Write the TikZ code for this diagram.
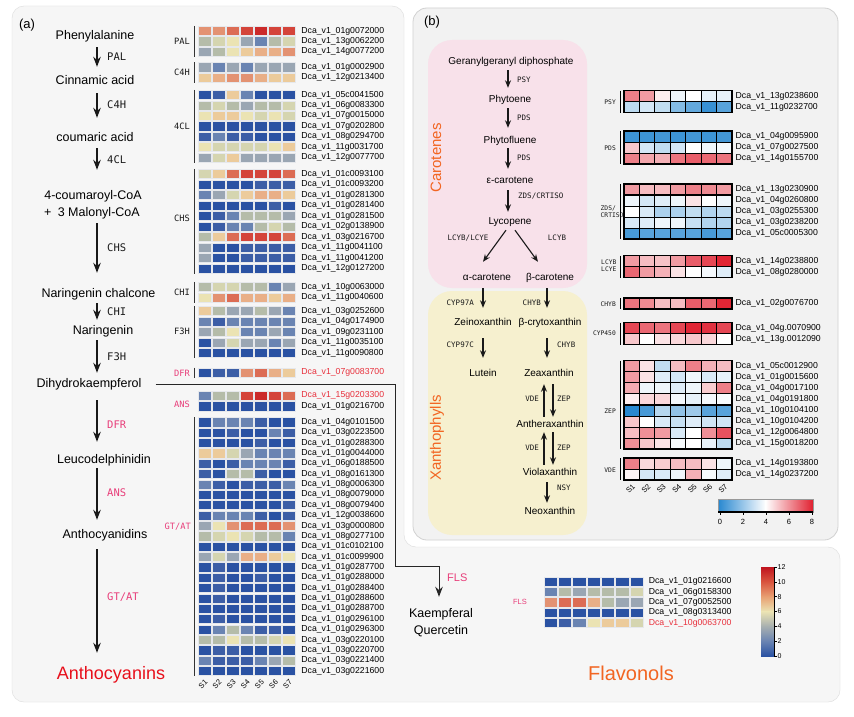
\documentclass[tikz,border=0pt]{standalone}
\usepackage{fontspec}
\setmainfont{Liberation Sans}
\newfontfamily\monof{DejaVu Sans Mono}
\usetikzlibrary{arrows.meta,calc}
\definecolor{hB}{HTML}{2A52A3}
\definecolor{hb}{HTML}{3C5EA6}
\definecolor{hm}{HTML}{6A84B2}
\definecolor{hg}{HTML}{9AA6B3}
\definecolor{hG}{HTML}{B5BCA9}
\definecolor{hy}{HTML}{D5D5B0}
\definecolor{hY}{HTML}{EBE3B3}
\definecolor{ho}{HTML}{ECCB9B}
\definecolor{hp}{HTML}{E9AF87}
\definecolor{hO}{HTML}{E39272}
\definecolor{hr}{HTML}{DC6C54}
\definecolor{hR}{HTML}{D4443A}
\definecolor{hX}{HTML}{CB2A2A}
\definecolor{cbX}{HTML}{C0141E}
\definecolor{cbR}{HTML}{D9553F}
\definecolor{cbO}{HTML}{E8A072}
\definecolor{cbG}{HTML}{A7AFB0}
\definecolor{bb}{HTML}{2888D0}
\definecolor{rb}{HTML}{E02030}
\definecolor{pk}{HTML}{E83E7A}
\definecolor{rd}{HTML}{E8303C}
\definecolor{antc}{HTML}{E8101C}
\definecolor{orc}{HTML}{F26522}
\definecolor{pfill}{HTML}{F6F6F6}
\definecolor{pline}{HTML}{DCDCDC}
\definecolor{pinkbox}{HTML}{F8E1EA}
\definecolor{yelbox}{HTML}{F6F0CF}
\definecolor{gapc}{HTML}{E6E8EC}
\newcounter{gn}
\newcommand\hrow[6]{%
  \foreach \c [count=\i from 0] in {#4} {
    \fill[fill=\c, draw=gapc, line width=0.6pt] ({#1+#2*\i},{#3-4.6}) rectangle ++({#2-1},9.2);
  }
  \stepcounter{gn}
  \node[gene, text=#6] (gene\thegn) at ({#1+7*#2+4.5},#3) {Dca\_v1\_#5};
}
\newcommand\brow[3]{%
  \foreach \v [count=\i from 0] in {#2} {
    \pgfmathsetmacro\pc{abs(\v-4)*25}
    \ifdim\v pt<4pt \def\cc{bb}\else\def\cc{rb}\fi
    \draw[fill=\cc!\pc!white, line width=0.8pt] ({624+15.43*\i},{#1-5.5}) rectangle ++(15.43,11);
  }
  \stepcounter{gn}
  \node[gene] (gene\thegn) at (735.5,#1) {Dca\_v1\_#3};
}
\newcommand\bframe[2]{\draw[line width=1.5pt] (624,{#1-5.5}) rectangle (732,{#2+5.5});
  \draw[line width=0.8pt] (620,{#1-5.5}) -- (620,{#2+5.5});}
\newcommand\lbar[2]{\draw[line width=0.9pt, black!80] (194,{#1-5.2}) -- (194,{#2+5.2});}
\begin{document}
\begin{tikzpicture}[x=1pt,y=-1pt,
  cmp/.style={font=\fontsize{12.5}{14}\selectfont, inner sep=0pt, text height=9pt, text depth=2.5pt},
  cmpb/.style={font=\fontsize{10}{12}\selectfont, inner sep=0pt, text height=7.5pt, text depth=2pt},
  enz/.style={font=\monof\fontsize{10.5}{12}\selectfont, inner sep=0pt, anchor=west, text=black!90},
  enzb/.style={font=\monof\fontsize{7.5}{9}\selectfont, inner sep=0pt, text=black!90},
  grp/.style={font=\monof\fontsize{8.7}{10}\selectfont, inner sep=0pt, anchor=east, text=black!90},
  grpb/.style={font=\monof\fontsize{6.3}{7.2}\selectfont, inner sep=0pt, text=black!90},
  gene/.style={font=\fontsize{8.7}{10}\selectfont, inner sep=0pt, anchor=west},
  samp/.style={font=\fontsize{7.5}{9}\selectfont, rotate=45, inner sep=0pt},
  arr/.style={-{Stealth[length=10pt,width=7.5pt]}, line width=1.2pt, black!90},
  arrb/.style={-{Stealth[length=7.5pt,width=6pt]}, line width=1.1pt, black!90},
  tick/.style={font=\fontsize{7}{8}\selectfont, inner sep=0pt}]
\useasboundingbox (0,0) rectangle (854,717);
\fill[white] (0,0) rectangle (854,717);
% panels
\draw[pline, fill=pfill, rounded corners=12pt] (12,6) -- (404,6) -- (404,547) -- (840,547) -- (840,702) -- (12,702) -- cycle;
\draw[black!18, fill=black!5, rounded corners=14pt, line width=0.8pt] (413,8) rectangle (838,540);
\fill[pinkbox, rounded corners=24pt] (428,40) rectangle (587,288);
\fill[yelbox, rounded corners=24pt] (428,291) rectangle (587,535);
\node[font=\fontsize{13}{15}\selectfont, inner sep=0pt] (la) at (27,25) {(a)};
\node[font=\fontsize{13}{15}\selectfont, inner sep=0pt] (lb) at (432,22) {(b)};

% ---------- left pathway ----------
\coordinate (colx) at (97,0);
\node[cmp] (phe) at (95,36) {Phenylalanine};
\node[cmp] (cin) at (95,81) {Cinnamic acid};
\node[cmp] (cou) at (95,138) {coumaric acid};
\node[cmp] (coa) at (93,196) {4-coumaroyl-CoA};
\node[cmp] (mal) at (92,213) {+\enspace 3 Malonyl-CoA};
\node[cmp] (nc) at (98.5,294) {Naringenin chalcone};
\node[cmp] (nar) at (103,331) {Naringenin};
\node[cmp] (dhk) at (89,384) {Dihydrokaempferol};
\node[cmp] (leu) at (104,460) {Leucodelphinidin};
\node[cmp] (ant) at (105,535) {Anthocyanidins};
\node[font=\fontsize{18}{20}\selectfont, inner sep=0pt, text height=13pt, text depth=4pt, text=antc] (anth) at (111,675) {Anthocyanins};
\draw[arr, shorten <=5.25pt, shorten >=8.25pt] (phe.south -| colx) -- (cin.north -| colx);
\draw[arr, shorten <=6.25pt, shorten >=14.25pt] (cin.south -| colx) -- (cou.north -| colx);
\draw[arr, shorten <=4.25pt, shorten >=20.25pt] (cou.south -| colx) -- (coa.north -| colx);
\draw[arr, shorten <=4.25pt, shorten >=15.25pt] (mal.south -| colx) -- (nc.north -| colx);
\draw[arr, shorten <=3.25pt, shorten >=5.25pt] (nc.south -| colx) -- (nar.north -| colx);
\draw[arr, shorten <=3.25pt, shorten >=5.25pt] (nar.south -| colx) -- (dhk.north -| colx);
\draw[arr, shorten <=10.25pt, shorten >=12.25pt] (dhk.south -| colx) -- (leu.north -| colx);
\draw[arr, shorten <=2.25pt, shorten >=9.25pt] (leu.south -| colx) -- (ant.north -| colx);
\draw[arr, shorten <=8.25pt, shorten >=13.5pt] (ant.south -| colx) -- (anth.north -| colx);
\node[enz] (ePAL) at (107,57) {PAL};
\node[enz] (eC4H) at (107,105) {C4H};
\node[enz] (e4CL) at (107,160) {4CL};
\node[enz] (eCHS) at (107,248) {CHS};
\node[enz] (eCHI) at (107,312) {CHI};
\node[enz] (eF3H) at (107,357) {F3H};
\node[enz, text=pk] (eDFR) at (107,425) {DFR};
\node[enz, text=pk] (eANS) at (107,493) {ANS};
\node[enz, text=pk] (eGT) at (107,597) {GT/AT};

% connector to flavonols
\coordinate (c1) at (395,384);
\coordinate (c2) at (439,566);
\node[cmp] (kae) at (441,614) {Kaempferal};
\node[cmp] (que) at (441,631) {Quercetin};
\draw[-{Stealth[length=10pt,width=7.5pt]}, line width=1pt, black!85, shorten <=14pt, shorten >=11.25pt] (dhk.east) -- (c1) -- (c1 |- c2) -- (c2) -- (c2 |- kae.north);
\node[font=\fontsize{11}{13}\selectfont, text=pk, anchor=west, inner sep=0pt] (fls) at (447,578) {FLS};

% ---------- left heatmap ----------
\node[grp] (gPAL) at (190,41) {PAL};
\node[grp] (gC4H) at (190,72.5) {C4H};
\node[grp] (g4CL) at (190,126) {4CL};
\node[grp] (gCHS) at (190,218) {CHS};
\node[grp] (gCHI) at (190,292) {CHI};
\node[grp] (gF3H) at (190,331) {F3H};
\node[grp, text=pk] (gDFR) at (190,373) {DFR};
\node[grp, text=pk] (gANS) at (190,404) {ANS};
\node[grp, text=pk] (gGT) at (191,527) {GT/AT};
\lbar{31}{51.8}\lbar{67.4}{77.8}\lbar{95}{157.4}\lbar{174}{268.5}\lbar{287}{297.4}\lbar{311}{353}\lbar{372.7}{372.7}\lbar{422.3}{671}
\hrow{198}{14.1}{31}{hO,hO,hr,hR,hX,hR,hR}{01g0072000}{black}
\hrow{198}{14.1}{41.4}{hG,hy,hY,hg,hm,hG,hy}{13g0062200}{black}
\hrow{198}{14.1}{51.8}{hg,hG,hY,ho,hp,hp,hO}{14g0077200}{black}
\hrow{198}{14.1}{67.4}{hg,hm,hg,hm,hg,hg,hg}{01g0002900}{black}
\hrow{198}{14.1}{77.8}{ho,hp,hO,hO,hp,ho,ho}{12g0213400}{black}
\hrow{198}{14.1}{95}{hB,hb,ho,hm,hB,hB,hB}{05c0041500}{black}
\hrow{198}{14.1}{105.4}{hG,hy,hG,hg,hG,hG,hy}{06g0083300}{black}
\hrow{198}{14.1}{115.8}{hY,ho,ho,hY,hy,hY,hy}{07g0015000}{black}
\hrow{198}{14.1}{126.2}{hB,hB,hB,hB,hB,hB,hB}{07g0202800}{black}
\hrow{198}{14.1}{136.6}{hb,hm,hb,hb,hB,hB,hB}{08g0294700}{black}
\hrow{198}{14.1}{147}{hY,hy,hy,hy,hy,hY,ho}{11g0031700}{black}
\hrow{198}{14.1}{157.4}{hg,hy,ho,hg,hg,hg,hg}{12g0077700}{black}
\hrow{198}{14.1}{174}{hy,ho,hr,hR,hR,hR,hr}{01c0093100}{black}
\hrow{198}{14.1}{184.5}{hB,hB,hB,hB,hb,hb,hb}{01c0093200}{black}
\hrow{198}{14.1}{195}{hm,hg,hy,ho,hp,hp,ho}{01g0281300}{black}
\hrow{198}{14.1}{205.5}{hB,hB,hB,hB,hB,hb,hB}{01g0281400}{black}
\hrow{198}{14.1}{216}{hB,hb,hm,hG,hG,hG,hg}{01g0281500}{black}
\hrow{198}{14.1}{226.5}{hB,hb,hm,hm,hG,hy,hG}{02g0138900}{black}
\hrow{198}{14.1}{237}{hG,ho,hr,hR,hR,hR,hr}{03g0216700}{black}
\hrow{198}{14.1}{247.5}{hg,hB,hB,hb,hb,hb,hb}{11g0041100}{black}
\hrow{198}{14.1}{258}{hg,hB,hB,hb,hb,hb,hb}{11g0041200}{black}
\hrow{198}{14.1}{268.5}{hB,hB,hB,hB,hB,hB,hB}{12g0127200}{black}
\hrow{198}{14.1}{287}{hG,hy,hy,hG,hG,hm,hg}{10g0063000}{black}
\hrow{198}{14.1}{297.4}{hY,hO,hr,hp,hp,ho,hp}{11g0040600}{black}
\hrow{198}{14.1}{311}{ho,hG,hg,hg,hG,hg,hm}{03g0252600}{black}
\hrow{198}{14.1}{321.5}{hm,hb,hm,hm,hm,hm,hm}{04g0174900}{black}
\hrow{198}{14.1}{332}{hg,hG,hY,hm,hm,hg,hm}{09g0231100}{black}
\hrow{198}{14.1}{342.5}{hB,hg,hy,hg,hg,hm,hg}{11g0035100}{black}
\hrow{198}{14.1}{353}{hB,hB,hB,hB,hB,hB,hB}{11g0090800}{black}
\hrow{198}{14.1}{372.7}{hB,hb,hb,hO,hr,hp,ho}{07g0083700}{rd}
\hrow{198}{14.1}{395.7}{hm,hG,hG,hR,hX,hR,hr}{15g0203300}{rd}
\hrow{198}{14.1}{406.2}{hB,hB,hB,hB,hB,hB,hB}{01g0216700}{black}
\foreach \cl/\sf [count=\k from 0] in {
 {hB,hm,hm,hm,hb,hB,hB}/04g0101500,
 {hB,hB,hb,hB,hB,hm,hb}/03g0223500,
 {hB,hB,hB,hB,hb,hB,hB}/01g0288300,
 {ho,ho,hy,hg,hm,hm,hm}/01g0044000,
 {hb,hB,hb,hm,hm,hm,hb}/06g0188500,
 {hb,hB,hG,hG,hb,hB,hB}/08g0161300,
 {hm,hb,hB,hb,hb,hb,hm}/08g0006300,
 {hB,hB,hB,hB,hB,hB,hB}/08g0079000,
 {hB,hB,hB,hB,hB,hB,hb}/08g0079400,
 {hb,hm,hm,hm,hb,hB,hb}/12g0038600,
 {hg,hY,hO,hr,hr,hr,hO}/03g0000800,
 {hG,hy,hY,hy,hG,hG,hm}/08g0277100,
 {hB,hB,hB,hB,hB,hB,hB}/01c0102100,
 {hg,hy,hg,hp,hp,ho,hY}/01c0099900,
 {hB,hb,hB,hB,hB,hB,hB}/01g0287700,
 {hB,hb,hB,hB,hb,hB,hB}/01g0288000,
 {hB,hb,hB,hB,hB,hB,hB}/01g0288400,
 {hB,hb,hB,hB,hB,hB,hB}/01g0288600,
 {hB,hB,hB,hB,hB,hB,hB}/01g0288700,
 {hB,hb,hB,hB,hB,hB,hB}/01g0296100,
 {hB,hm,hG,hm,hb,hb,hB}/01g0296300,
 {hG,hG,hY,hG,hG,hy,hY}/03g0220100,
 {hB,hb,hb,hB,hB,hB,hB}/03g0220700,
 {hm,hb,hb,hb,hm,hg,hG}/03g0221400,
 {hB,hB,hB,hB,hB,hB,hB}/03g0221600} {
  \pgfmathsetmacro\yy{422.3+10.36*\k}
  \edef\tmprow{\noexpand\hrow{198}{14.1}{\yy}{\cl}{\sf}{black}}\tmprow
}
\foreach \s [count=\i from 0] in {1,...,7} {\node[samp] (sa\s) at ({203+14.1*\i},684) {S\s};}

% ---------- flavonols ----------
\node[font=\fontsize{7.5}{9}\selectfont, text=pk, inner sep=0pt] (gFLS) at (520,602.3) {FLS};
\hrow{544}{14.3}{581.7}{hB,hB,hB,hB,hB,hB,hB}{01g0216600}{black}
\hrow{544}{14.3}{592}{hm,hG,hg,hG,hG,hG,hy}{06g0158300}{black}
\hrow{544}{14.3}{602.3}{hO,hr,hr,hp,hG,hg,hg}{07g0052500}{black}
\hrow{544}{14.3}{612.6}{hB,hB,hB,hB,hB,hB,hB}{08g0313400}{black}
\hrow{544}{14.3}{622.9}{hB,hb,hm,hY,ho,ho,hy}{10g0063700}{rd}
\shade[top color=cbX, bottom color=cbR] (761,567) rectangle (774,581.9);
\shade[top color=cbR, bottom color=cbO] (761,581.8) rectangle (774,596.7);
\shade[top color=cbO, bottom color=hY] (761,596.6) rectangle (774,611.6);
\shade[top color=hY, bottom color=cbG] (761,611.5) rectangle (774,626.4);
\shade[top color=cbG, bottom color=hm] (761,626.3) rectangle (774,641.2);
\shade[top color=hm, bottom color=hB] (761,641.1) rectangle (774,656);
\draw[line width=0.6pt] (774,567) -- (774,656);
\foreach \t [count=\i from 0] in {12,10,8,6,4,2,0} {
  \draw[line width=0.5pt] (774,{567+14.83*\i}) -- ++(2.5,0);
  \node[tick, anchor=west] (ft\t) at (777.5,{567+14.83*\i}) {\t};
}
\node[font=\fontsize{20}{22}\selectfont, text=orc, inner sep=0pt] (flav) at (631,673) {Flavonols};

% ---------- panel b pathway ----------
\node[font=\fontsize{15}{17}\selectfont, text=orc, rotate=90, inner sep=0pt] (carot) at (436,158) {Carotenes};
\node[font=\fontsize{15}{17}\selectfont, text=orc, rotate=90, inner sep=0pt] (xanth) at (437,438) {Xanthophylls};
\coordinate (colb) at (508,0);
\coordinate (colc) at (547,0);
\coordinate (cold) at (544,0);
\coordinate (cole) at (553,0);
\node[cmpb] (gg) at (511,61.5) {Geranylgeranyl diphosphate};
\node[cmpb] (phy) at (510,100) {Phytoene};
\node[cmpb] (phf) at (510,141) {Phytofluene};
\node[cmpb] (eps) at (510,181) {ε-carotene};
\node[cmpb] (lyc) at (510,222) {Lycopene};
\node[cmpb] (ac) at (487,278) {α-carotene};
\node[cmpb] (bc) at (550,278) {β-carotene};
\node[cmpb] (zei) at (483,323) {Zeinoxanthin};
\node[cmpb] (bcr) at (550,323) {β-crytoxanthin};
\node[cmpb] (lut) at (483,374) {Lutein};
\node[cmpb] (zea) at (549,374) {Zeaxanthin};
\node[cmpb] (anx) at (550,425) {Antheraxanthin};
\node[cmpb] (vio) at (550,473) {Violaxanthin};
\node[cmpb] (neo) at (550,512) {Neoxanthin};
\draw[arrb, shorten <=3.75pt, shorten >=7.25pt] (gg.south -| colb) -- (phy.north -| colb);
\draw[arrb, shorten <=3.25pt, shorten >=8.25pt] (phy.south -| colb) -- (phf.north -| colb);
\draw[arrb, shorten <=2.25pt, shorten >=7.25pt] (phf.south -| colb) -- (eps.north -| colb);
\draw[arrb, shorten <=4.25pt, shorten >=5.25pt] (eps.south -| colb) -- (lyc.north -| colb);
\draw[arrb] ($(lyc.south)+(-4,3.25)$) -- ($(ac.north)+(-4,-11.25)$);
\draw[arrb] ($(lyc.south)+(5,3.25)$) -- ($(bc.north)+(-12,-11.25)$);
\draw[arrb, shorten <=5.25pt, shorten >=10.25pt] (zei |- ac.south) -- (zei.north);
\draw[arrb, shorten <=5.25pt, shorten >=10.25pt] (bc.south -| colc) -- (bcr.north -| colc);
\draw[arrb, shorten <=10.25pt, shorten >=11.25pt] (zei.south) -- (lut.north -| zei);
\draw[arrb, shorten <=10.25pt, shorten >=11.25pt] (bcr.south -| colc) -- (zea.north -| colc);
\draw[arrb, shorten <=3.25pt, shorten >=5.25pt] (anx.north -| cold) -- (zea.south -| cold);
\draw[arrb, shorten <=5.25pt, shorten >=3.25pt] (zea.south -| cole) -- (anx.north -| cole);
\draw[arrb, shorten <=3.25pt, shorten >=2.25pt] (vio.north -| cold) -- (anx.south -| cold);
\draw[arrb, shorten <=2.25pt, shorten >=3.25pt] (anx.south -| cole) -- (vio.north -| cole);
\draw[arrb, shorten <=4.25pt, shorten >=4.25pt] (vio.south -| colc) -- (neo.north -| colc);
\node[enzb, anchor=west] (bPSY) at (517,80) {PSY};
\node[enzb, anchor=west] (bPDS1) at (517,118) {PDS};
\node[enzb, anchor=west] (bPDS2) at (517,158) {PDS};
\node[enzb, anchor=west] (bZDS) at (518,196) {ZDS/CRTISO};
\node[enzb] (bLL) at (468,238) {LCYB/LCYE};
\node[enzb] (bLCYB) at (557,238) {LCYB};
\node[enzb, anchor=east] (bC97A) at (474,303) {CYP97A};
\node[enzb, anchor=east] (bCHYB1) at (541,303) {CHYB};
\node[enzb, anchor=east] (bC97C) at (474,345) {CYP97C};
\node[enzb, anchor=west] (bCHYB2) at (557,345) {CHYB};
\node[enzb, anchor=east] (bVDE1) at (539,399) {VDE};
\node[enzb, anchor=west] (bZEP1) at (557,399) {ZEP};
\node[enzb, anchor=east] (bVDE2) at (539,448) {VDE};
\node[enzb, anchor=west] (bZEP2) at (557,448) {ZEP};
\node[enzb, anchor=west] (bNSY) at (557,488) {NSY};

% ---------- panel b heatmap ----------
\node[grpb, anchor=east] (hPSY) at (616,102) {PSY};
\node[grpb, anchor=east] (hPDS) at (616,148) {PDS};
\node[grpb, anchor=west, align=left] (hZDS) at (600.5,211.5) {ZDS/\\CRTISO};
\node[grpb, anchor=west, align=left] (hLCY) at (601,266) {LCYB\\LCYE};
\node[grpb, anchor=east] (hCHYB) at (616,304) {CHYB};
\node[grpb, anchor=east] (hCYP) at (616,333) {CYP450};
\node[grpb, anchor=east] (hZEP) at (616,411) {ZEP};
\node[grpb, anchor=east] (hVDE) at (616,470) {VDE};
\brow{96}{6.3,5.8,4.3,3.7,4.0,3.55,3.55}{13g0238600}
\brow{107}{2.75,3.2,2.85,1.7,1.1,0.3,0.9}{11g0232700}
\bframe{96}{107}
\brow{136.7}{0.4,0.4,0.5,0.4,0.5,0.4,0.5}{04g0095900}
\brow{147.7}{5.0,3.2,2.85,3.2,4.0,3.7,3.8}{07g0027500}
\brow{158.7}{6.3,5.6,5.4,6.5,6.9,6.7,6.5}{14g0155700}
\bframe{136.7}{158.7}
\brow{189.3}{5.8,5.2,5.2,5.8,6.3,6.1,5.8}{13g0230900}
\brow{200.4}{3.7,3.2,3.4,3.7,4.5,4.0,3.7}{04g0260800}
\brow{211.5}{4.0,3.3,2.45,2.45,2.85,2.55,2.75}{03g0255300}
\brow{222.6}{3.3,3.4,3.7,3.7,2.95,2.55,2.55}{03g0238200}
\brow{233.7}{0.6,0.9,0.9,0.9,0.9,0.6,0.9}{05c0005300}
\bframe{189.3}{233.7}
\brow{261}{5.8,5.2,5.1,5.8,6.9,7.3,7.9}{14g0238800}
\brow{272}{6.7,5.8,5.4,4.5,4.0,3.8,3.4}{08g0280000}
\bframe{261}{272}
\brow{303.3}{6.5,6.1,5.2,5.2,6.9,6.7,7.9}{02g0076700}
\bframe{303.3}{303.3}
\brow{328}{7.3,6.7,6.5,7.3,7.9,7.7,7.3}{04g.0070900}
\brow{339}{5.0,4.0,4.5,4.7,5.0,4.7,4.0}{13g.0012090}
\bframe{328}{339}
\brow{366}{5.8,4.5,2.85,5.2,6.3,5.4,5.2}{05c0012900}
\brow{377.1}{5.8,4.5,3.4,3.2,3.7,3.3,3.55}{01g0015600}
\brow{388.2}{5.5,3.7,3.7,3.4,3.7,4.9,6.3}{04g0017100}
\brow{399.3}{4.3,4.7,4.7,3.8,3.55,3.8,3.85}{04g0191800}
\brow{410.4}{0.0,0.6,2.65,1.95,2.2,0.9,0.9}{10g0104100}
\brow{421.5}{5.0,4.0,3.3,2.95,3.4,3.1,3.1}{10g0104200}
\brow{432.6}{5.2,6.0,5.8,3.3,4.0,6.0,7.1}{12g0064800}
\brow{443.7}{6.0,5.0,4.5,3.85,4.0,3.55,2.75}{15g0018200}
\bframe{366}{443.7}
\brow{463.7}{6.3,4.7,4.9,5.2,5.2,4.5,3.7}{14g0193800}
\brow{474.7}{4.2,3.2,3.3,3.7,5.4,3.85,3.4}{14g0237200}
\bframe{463.7}{474.7}
\foreach \s [count=\i from 0] in {1,...,7} {\node[samp] (sb\s) at ({630.5+15.43*\i},488.5) {S\s};}
\shade[left color=bb, right color=white] (718,499) rectangle (765.6,512);
\shade[left color=white, right color=rb] (765.5,499) rectangle (813,512);
\draw[line width=0.4pt, black!40] (718,499) rectangle (813,512);
\draw[line width=1.3pt] (718,512) -- (813,512);
\foreach \t [count=\i from 0] in {0,2,4,6,8} {
  \draw[line width=0.5pt] ({720+23*\i},512) -- ++(0,2.5);
  \node[tick, font=\fontsize{7.5}{9}\selectfont] (bt\t) at ({720+23*\i},522) {\t};
}
\end{tikzpicture}
\end{document}
